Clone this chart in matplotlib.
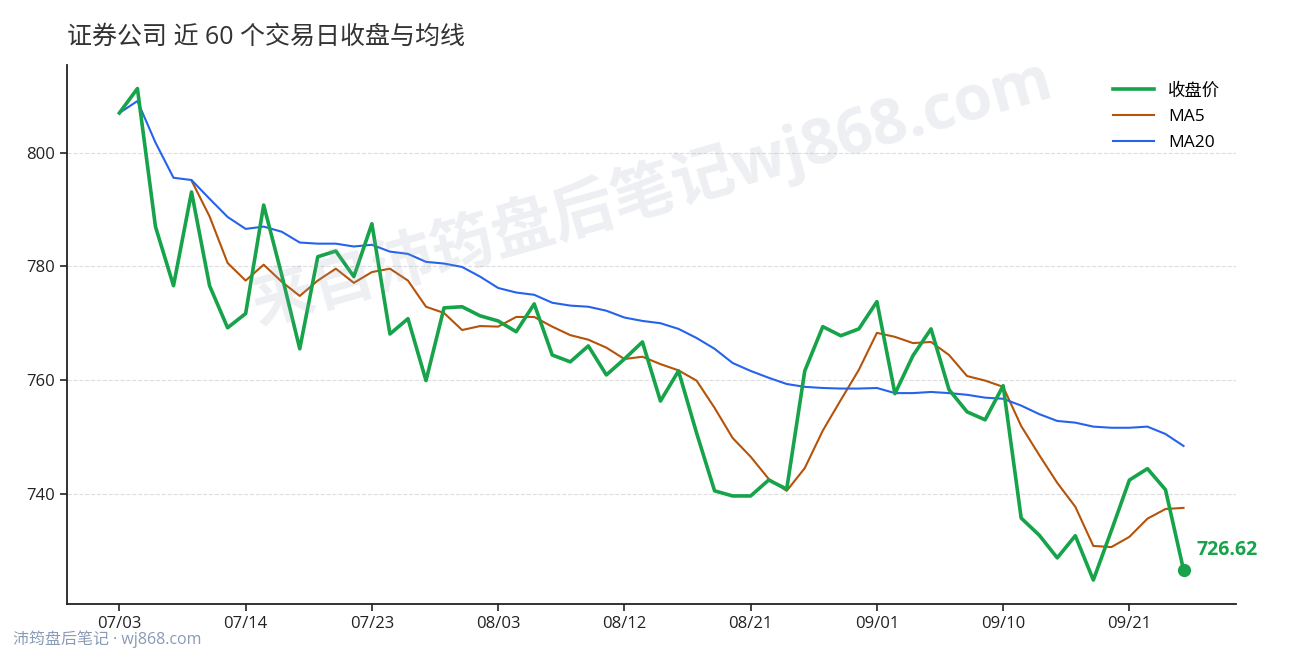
import matplotlib

matplotlib.use("Agg")
import matplotlib.pyplot as plt

# 60 trading days
close = [
    807.0, 811.3, 787.0, 776.6, 793.1, 776.6, 769.2, 771.7, 790.8, 778.5,
    765.5, 781.7, 782.7, 778.2, 787.5, 768.1, 770.8, 759.9, 772.7, 772.9,
    771.3, 770.4, 768.5, 773.4, 764.4, 763.2, 766.0, 760.9, 763.7, 766.7,
    756.3, 761.6, 750.7, 740.5, 739.6, 739.6, 742.4, 740.8, 761.6, 769.4,
    767.8, 769.0, 773.8, 757.6, 764.3, 769.0, 758.3, 754.4, 753.0, 759.0,
    735.7, 732.7, 728.7, 732.6, 724.8, 733.5, 742.4, 744.4, 740.7, 726.62,
]
ma5 = [
    None, None, None, None, 795.1, 788.8, 780.6, 777.5, 780.3, 777.3,
    774.8, 777.5, 779.6, 777.1, 779.0, 779.6, 777.5, 772.9, 771.8, 768.8,
    769.5, 769.4, 771.1, 771.1, 769.4, 767.9, 767.1, 765.7, 763.7, 764.1,
    762.8, 761.7, 759.9, 755.1, 749.8, 746.5, 742.6, 740.5, 744.5, 751.1,
    756.5, 761.8, 768.3, 767.6, 766.5, 766.7, 764.4, 760.7, 759.9, 758.8,
    751.9, 746.8, 741.9, 737.7, 730.8, 730.6, 732.4, 735.6, 737.3, 737.5,
]
ma20 = [
    807.0, 809.1, 801.8, 795.6, 795.2, 791.9, 788.7, 786.6, 787.0, 786.1,
    784.2, 784.0, 784.0, 783.5, 783.8, 782.6, 782.2, 780.8, 780.5, 779.9,
    778.2, 776.2, 775.4, 775.0, 773.6, 773.1, 772.9, 772.2, 771.0, 770.4,
    770.0, 769.0, 767.4, 765.5, 763.0, 761.6, 760.4, 759.3, 758.8, 758.6,
    758.5, 758.5, 758.6, 757.7, 757.7, 757.9, 757.7, 757.4, 756.9, 756.7,
    755.5, 754.0, 752.8, 752.5, 751.8, 751.6, 751.6, 751.8, 750.5, 748.4,
]
tick_pos = [0, 7, 14, 21, 28, 35, 42, 49, 56]
tick_labels = ["07/03", "07/14", "07/23", "08/03", "08/12", "08/21", "09/01", "09/10", "09/21"]

GREEN = "#16a34a"
ORANGE = "#b45309"
BLUE = "#2563eb"

plt.rcParams["font.family"] = ["Open Sans", "Noto Sans CJK SC", "DejaVu Sans"]

fig = plt.figure(figsize=(12.9, 6.6), dpi=100)
ax = fig.add_axes([0.052, 0.085, 0.906, 0.817])

x = list(range(len(close)))
ma5_x = [i for i, v in enumerate(ma5) if v is not None]
ma5_y = [v for v in ma5 if v is not None]

ax.plot(x, close, color=GREEN, lw=2.6, label="收盘价", zorder=4)
ax.plot(ma5_x, ma5_y, color=ORANGE, lw=1.5, label="MA5", zorder=3)
ax.plot(x, ma20, color=BLUE, lw=1.5, label="MA20", zorder=3)

# last close marker + label
ax.plot(x[-1], close[-1], "o", color=GREEN, ms=8.5, zorder=5)
ax.annotate(f"{close[-1]:.2f}", (x[-1], close[-1]), xytext=(9, 14),
            textcoords="offset points", color=GREEN, fontsize=14,
            fontweight="bold", va="center", ha="left")

ax.set_xlim(-2.9, 61.9)
ax.set_ylim(720.6, 815.5)
ax.set_yticks([740, 760, 780, 800])
ax.set_xticks(tick_pos)
ax.set_xticklabels(tick_labels)
ax.tick_params(labelsize=12, colors="#222222", length=5, width=1.2)
ax.grid(axis="y", linestyle="--", color="#dddddd", lw=0.8)
ax.set_axisbelow(True)
for side in ("top", "right"):
    ax.spines[side].set_visible(False)
for side in ("left", "bottom"):
    ax.spines[side].set_color("#222222")
    ax.spines[side].set_linewidth(1.3)

ax.legend(loc="upper right", frameon=False, fontsize=12.5, handlelength=2.4,
          labelspacing=0.55, bbox_to_anchor=(1.0, 0.995))

fig.text(0.052, 0.944, "证券公司 近 60 个交易日收盘与均线", fontsize=18,
         color="#333333", va="center", ha="left")

# watermarks
fig.text(0.505, 0.71, "来自沛筠盘后笔记wj868.com", fontsize=45, fontweight="bold",
         color="#94a3b8", alpha=0.17, rotation=16, ha="center", va="center",
         zorder=0)
fig.text(0.01, 0.018, "沛筠盘后笔记 · wj868.com", fontsize=11.5, color="#8a9bb5",
         ha="left", va="bottom")

fig.savefig("out.png", dpi=100)
plt.close(fig)
